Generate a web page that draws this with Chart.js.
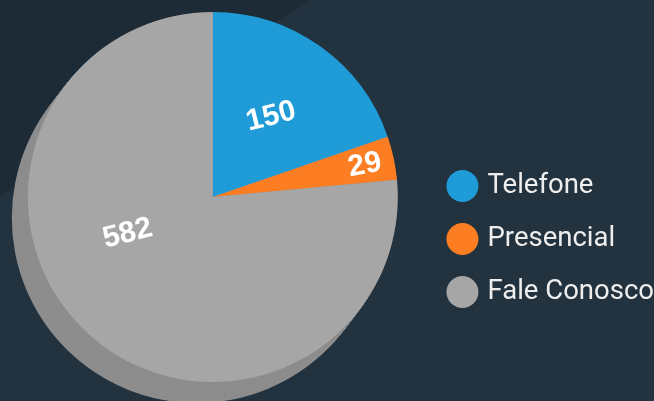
<!DOCTYPE html>
<html>
<head>
<meta charset="utf-8">
<script src="https://cdn.jsdelivr.net/npm/chart.js@4.4.1/dist/chart.umd.min.js"></script>
<style>
  html, body { margin: 0; padding: 0; background: #22323e; overflow: hidden; }
  #wrap { position: relative; width: 654px; height: 401px; }
</style>
</head>
<body>
<div id="wrap"><canvas id="c" width="654" height="401"></canvas></div>
<script>
// ---- data ----
const categories = ['Telefone', 'Presencial', 'Fale Conosco'];
const values = [150, 29, 582];
const sliceColors = ['#1f9bd8', '#fd7e22', '#a6a6a6'];

// ---- label styling (not data) ----
const labelAngleShiftDeg = [0, 0, 25];
const labelRadiusFrac = [0.54, 0.84, 0.5];
const labelRotationDeg = [-14, -11, -14];

const bgPlugin = {
  id: 'bg',
  beforeDraw(chart) {
    const ctx = chart.ctx;
    ctx.save();
    ctx.fillStyle = '#22323e';
    ctx.fillRect(0, 0, chart.width, chart.height);
    ctx.fillStyle = '#1d2b36';
    ctx.beginPath();
    ctx.moveTo(0, 0);
    ctx.lineTo(310, 0);
    ctx.lineTo(0, 197);
    ctx.closePath();
    ctx.fill();
    ctx.restore();
  }
};

const extrudePlugin = {
  id: 'extrude',
  beforeDatasetsDraw(chart) {
    const arc = chart.getDatasetMeta(0).data[0];
    if (!arc) return;
    const { x, y, outerRadius } = arc.getProps(['x', 'y', 'outerRadius'], true);
    const ctx = chart.ctx;
    const dx = -16, dy = 21, n = 26;
    ctx.save();
    ctx.fillStyle = '#8d8d8d';
    for (let i = n; i >= 1; i--) {
      ctx.beginPath();
      ctx.arc(x + dx * i / n, y + dy * i / n, outerRadius, 0, Math.PI * 2);
      ctx.fill();
    }
    ctx.restore();
  }
};

const labelPlugin = {
  id: 'sliceLabels',
  afterDatasetsDraw(chart) {
    const meta = chart.getDatasetMeta(0);
    const ctx = chart.ctx;
    ctx.save();
    ctx.fillStyle = '#ffffff';
    ctx.font = 'bold 30px "Liberation Sans", Arial, sans-serif';
    ctx.textAlign = 'center';
    ctx.textBaseline = 'middle';
    meta.data.forEach((arc, i) => {
      const p = arc.getProps(['x', 'y', 'startAngle', 'endAngle', 'outerRadius'], true);
      const mid = (p.startAngle + p.endAngle) / 2 + labelAngleShiftDeg[i] * Math.PI / 180;
      const r = p.outerRadius * labelRadiusFrac[i];
      const lx = p.x + Math.cos(mid) * r;
      const ly = p.y + Math.sin(mid) * r;
      ctx.save();
      ctx.translate(lx, ly);
      ctx.rotate(labelRotationDeg[i] * Math.PI / 180);
      ctx.fillText(String(values[i]), 0, 1);
      ctx.restore();
    });
    ctx.restore();
  }
};

new Chart(document.getElementById('c'), {
  type: 'pie',
  data: {
    labels: categories,
    datasets: [{
      data: values,
      backgroundColor: sliceColors,
      borderWidth: 0,
      hoverOffset: 0
    }]
  },
  options: {
    responsive: false,
    animation: false,
    events: [],
    layout: { padding: { left: -6, right: -10, top: 12, bottom: 19 } },
    plugins: {
      tooltip: { enabled: false },
      legend: {
        position: 'right',
        align: 'center',
        title: { display: true, text: '', padding: { top: 69.6, bottom: 0 } },
        labels: {
          usePointStyle: true,
          pointStyle: 'circle',
          boxWidth: 22.6,
          boxHeight: 22.6,
          padding: 25.5,
          color: '#eeeeee',
          font: { family: 'Roboto', size: 27.5 }
        }
      }
    }
  },
  plugins: [bgPlugin, extrudePlugin, labelPlugin]
});
</script>
</body>
</html>
